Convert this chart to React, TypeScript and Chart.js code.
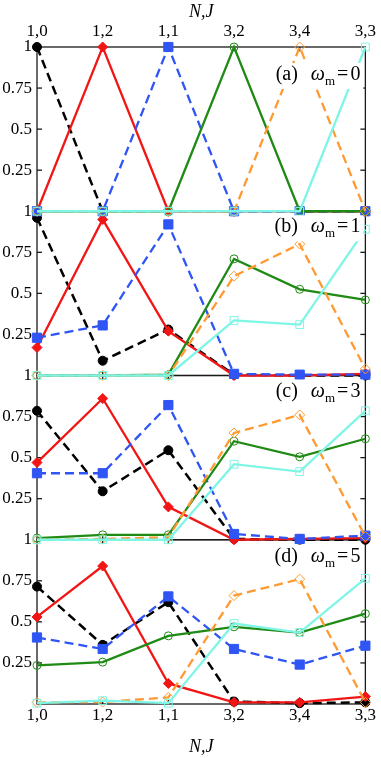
import React, { useEffect, useRef } from 'react';
import { Chart, registerables } from 'chart.js';

Chart.register(...registerables);

// ---------- data ----------
const categories = ['1,0', '1,2', '1,1', '3,2', '3,4', '3,3'];
const panelLetters = ['a', 'b', 'c', 'd'];
const omegaValues = ['0', '1', '3', '5'];
const yTickValues = [0, 0.25, 0.5, 0.75, 1];

// (a) omega_m = 0
const a10 = [1, 0, 0, 0, 0, 0];
const a12 = [0, 1, 0, 0, 0, 0];
const a11 = [0, 0, 1, 0, 0, 0];
const a32 = [0, 0, 0, 1, 0, 0];
const a34 = [0, 0, 0, 0, 1, 0];
const a33 = [0, 0, 0, 0, 0, 1];

// (b) omega_m = 1
const b10 = [0.96, 0.09, 0.28, 0.005, 0, 0];
const b12 = [0.17, 0.95, 0.27, 0, 0, 0.01];
const b11 = [0.23, 0.305, 0.92, 0.01, 0.005, 0.005];
const b32 = [0, 0, 0.005, 0.71, 0.525, 0.46];
const b34 = [0, 0, 0, 0.605, 0.8, 0.04];
const b33 = [0, 0, 0, 0.335, 0.31, 0.89];

// (c) omega_m = 3
const c10 = [0.785, 0.295, 0.545, 0.005, 0, 0];
const c12 = [0.47, 0.86, 0.2, 0, 0.005, 0.01];
const c11 = [0.405, 0.405, 0.82, 0.035, 0.005, 0.025];
const c32 = [0.01, 0.03, 0.03, 0.6, 0.505, 0.615];
const c34 = [0, 0.005, 0.015, 0.65, 0.76, 0.02];
const c33 = [0, 0, 0, 0.46, 0.415, 0.785];

// (d) omega_m = 5
const d10 = [0.715, 0.36, 0.62, 0.015, 0.005, 0.01];
const d12 = [0.53, 0.84, 0.125, 0.01, 0.01, 0.045];
const d11 = [0.405, 0.335, 0.655, 0.335, 0.24, 0.355];
const d32 = [0.235, 0.255, 0.415, 0.47, 0.435, 0.55];
const d34 = [0.01, 0.012, 0.04, 0.66, 0.76, 0.01];
const d33 = [0.005, 0.02, 0.005, 0.49, 0.435, 0.765];

const panelSeries = [
  [a10, a12, a11, a32, a34, a33],
  [b10, b12, b11, b32, b34, b33],
  [c10, c12, c11, c32, c34, c33],
  [d10, d12, d11, d32, d34, d33],
];

// ---------- styles ----------
const SERIF = '"Liberation Serif", "Times New Roman", Times, serif';
const seriesStyles = [
  { color: '#000000', dash: [9, 5], style: 'circle', filled: true, radius: 4.5, width: 2.5 },
  { color: '#f21515', dash: [], style: 'rectRot', filled: true, radius: 5, width: 2.3 },
  { color: '#2f55f5', dash: [9, 5], style: 'rect', filled: true, radius: 6.5, width: 2.3 },
  { color: '#1f8a14', dash: [], style: 'circle', filled: false, radius: 4, width: 2.3 },
  { color: '#ff9a33', dash: [9, 5], style: 'rectRot', filled: false, radius: 5, width: 2.3 },
  { color: '#7ff5e6', dash: [], style: 'rect', filled: false, radius: 5.5, width: 2.3 },
];
const panelIds = ['ya', 'yb', 'yc', 'yd'];
const labelBaseline = [33, 21, 21, 22];

const framePlugin = {
  id: 'panelFrame',
  beforeDatasetsDraw(chart: any) {
    const ctx = chart.ctx;
    const { left, right } = chart.chartArea;
    const xs = chart.scales.x;
    ctx.save();
    ctx.strokeStyle = '#1a1a1a';
    ctx.lineWidth = 1.3;
    const line = (x1: number, y1: number, x2: number, y2: number) => {
      ctx.beginPath();
      ctx.moveTo(x1, y1);
      ctx.lineTo(x2, y2);
      ctx.stroke();
    };
    panelIds.forEach((id) => {
      const s = chart.scales[id];
      ctx.strokeRect(left, s.top, right - left, s.bottom - s.top);
      s.ticks.forEach((t: any) => {
        if (t.value > 0 && t.value < 1) {
          const y = s.getPixelForValue(t.value);
          line(left, y, left + 5, y);
          line(right, y, right - 5, y);
        }
      });
      categories.forEach((_, i) => {
        if (i > 0 && i < categories.length - 1) {
          const x = xs.getPixelForValue(i);
          line(x, s.top, x, s.top + 4);
          line(x, s.bottom, x, s.bottom - 4);
        }
      });
    });
    ctx.restore();
  },
};

const labelPlugin = {
  id: 'panelLabels',
  afterDatasetsDraw(chart: any) {
    const ctx = chart.ctx;
    const right = chart.chartArea.right;
    ctx.save();
    panelIds.forEach((id, p) => {
      const s = chart.scales[id];
      const baseY = s.top + labelBaseline[p];
      const parts = [
        { text: `(${panelLetters[p]})`, font: `20px ${SERIF}`, dy: 0, gap: 13 },
        { text: 'ω', font: `italic 20px ${SERIF}`, dy: 0, gap: 0 },
        { text: 'm', font: `13px ${SERIF}`, dy: 5, gap: 2 },
        { text: '=', font: `20px ${SERIF}`, dy: 0, gap: 2 },
        { text: omegaValues[p], font: `20px ${SERIF}`, dy: 0, gap: 0 },
      ];
      let total = 0;
      const widths = parts.map((pt) => {
        ctx.font = pt.font;
        const w = ctx.measureText(pt.text).width;
        total += w + pt.gap;
        return w;
      });
      const startX = right - 5 - total;
      ctx.fillStyle = '#ffffff';
      ctx.fillRect(startX - 3, baseY - 17, total + 6, 26);
      ctx.fillStyle = '#000000';
      ctx.textBaseline = 'alphabetic';
      ctx.textAlign = 'left';
      let x = startX;
      parts.forEach((pt, i) => {
        ctx.font = pt.font;
        ctx.fillText(pt.text, x, baseY + pt.dy);
        x += widths[i] + pt.gap;
      });
    });
    ctx.restore();
  },
};

export default function App() {
  const canvasRef = useRef<HTMLCanvasElement | null>(null);

  useEffect(() => {
    if (!canvasRef.current) return;
    const datasets: any[] = [];
    panelSeries.forEach((series, p) => {
      series.forEach((values, s) => {
        const st = seriesStyles[s];
        datasets.push({
          label: `${panelLetters[p]}-${categories[s]}`,
          data: values,
          xAxisID: 'x',
          yAxisID: panelIds[p],
          borderColor: st.color,
          borderWidth: st.width,
          borderDash: st.dash,
          pointStyle: st.style,
          pointRadius: st.radius,
          pointBackgroundColor: st.filled ? st.color : 'rgba(0,0,0,0)',
          pointBorderColor: st.color,
          pointBorderWidth: 1,
          tension: 0,
          fill: false,
          clip: false,
          order: 5 - s,
        });
      });
    });

    const tickFont = { family: SERIF, size: 17 };
    const yScale = (id: string, weight: number) => ({
      type: 'linear',
      position: 'left',
      stack: 'panels',
      stackWeight: 1,
      weight,
      min: 0,
      max: 1,
      afterBuildTicks: (scale: any) => {
        scale.ticks = yTickValues.map((v) => ({ value: v }));
      },
      grid: { display: false, drawTicks: false },
      border: { display: false },
      ticks: {
        padding: 5,
        color: '#000',
        font: tickFont,
        autoSkip: false,
        callback: (v: any) => (Number(v) === 0 ? '' : String(Number(v))),
      },
      afterFit: (scale: any) => {
        scale.width = 37;
      },
    });

    const chart = new Chart(canvasRef.current, {
      type: 'line',
      data: { labels: categories, datasets },
      options: {
        responsive: false,
        devicePixelRatio: 1,
        animation: false,
        events: [],
        layout: { padding: { right: 15, left: 0, top: 0, bottom: 0 } },
        plugins: { legend: { display: false }, tooltip: { enabled: false } },
        scales: {
          x: {
            type: 'category',
            position: 'bottom',
            offset: false,
            grid: { display: false, drawTicks: false },
            border: { display: false },
            ticks: { padding: 1, color: '#000', font: tickFont, maxRotation: 0, autoSkip: false },
            title: {
              display: true,
              text: 'N,J',
              color: '#000',
              font: { family: SERIF, size: 18, style: 'italic' },
              padding: { top: 0, bottom: 0 },
            },
            afterFit: (scale: any) => {
              scale.height = 54;
            },
          },
          x2: {
            type: 'category',
            labels: categories,
            position: 'top',
            offset: false,
            grid: { display: false, drawTicks: false },
            border: { display: false },
            ticks: { padding: 5, color: '#000', font: tickFont, maxRotation: 0, autoSkip: false },
            title: {
              display: true,
              text: 'N,J',
              color: '#000',
              font: { family: SERIF, size: 18, style: 'italic' },
              padding: { top: 1, bottom: 0 },
            },
            afterFit: (scale: any) => {
              scale.height = 47;
            },
          },
          ya: yScale('ya', 4),
          yb: yScale('yb', 3),
          yc: yScale('yc', 2),
          yd: yScale('yd', 1),
        } as any,
      },
      plugins: [framePlugin, labelPlugin],
    } as any);
    return () => chart.destroy();
  }, []);

  return (
    <div style={{ position: 'absolute', left: 0, top: 0, width: 381, height: 758, background: '#fff' }}>
      <canvas ref={canvasRef} width={381} height={758} style={{ display: 'block' }} />
    </div>
  );
}
